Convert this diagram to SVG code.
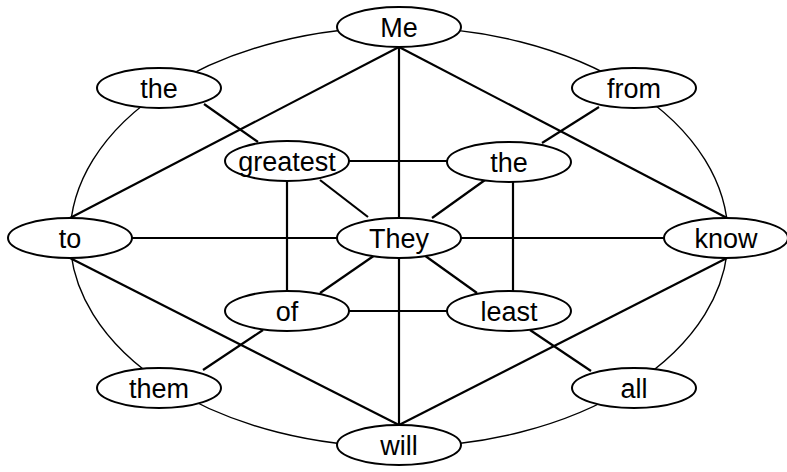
<svg xmlns="http://www.w3.org/2000/svg" width="787" height="472" viewBox="0 0 787 472">
<style>
.n ellipse{fill:#fff;stroke:#000;stroke-width:2}
.n text{font-family:"Liberation Sans",Arial,sans-serif;font-size:27px;text-anchor:middle;fill:#000}
.e line{stroke:#000;stroke-width:2.2}
.o{fill:none;stroke:#000;stroke-width:1.4}
</style>
<rect width="787" height="472" fill="#fff"/>
<g id="connectors">
<ellipse class="o" cx="399" cy="237" rx="329" ry="210"/>
<g class="e">
<line x1="399" y1="47" x2="399" y2="218"/>
<line x1="399" y1="258" x2="399" y2="425"/>
<line x1="399" y1="47" x2="70" y2="218"/>
<line x1="399" y1="47" x2="727" y2="218"/>
<line x1="70" y1="258" x2="399" y2="425"/>
<line x1="727" y1="258" x2="399" y2="425"/>
<line x1="132" y1="238" x2="337" y2="238"/>
<line x1="461" y1="238" x2="665" y2="238"/>
<line x1="349" y1="161" x2="447" y2="161"/>
<line x1="349" y1="311" x2="447" y2="311"/>
<line x1="287" y1="181" x2="287" y2="291"/>
<line x1="513" y1="182" x2="513" y2="291"/>
<line x1="204" y1="104" x2="258" y2="142"/>
<line x1="599" y1="107" x2="542" y2="143"/>
<line x1="320" y1="180" x2="368" y2="217"/>
<line x1="485" y1="180" x2="432" y2="218"/>
<line x1="320" y1="293" x2="375" y2="255"/>
<line x1="424" y1="255" x2="477" y2="293"/>
<line x1="263" y1="330" x2="203" y2="370"/>
<line x1="530" y1="330" x2="591" y2="371"/>
</g>
</g>
<g id="n-me" class="n"><ellipse cx="399" cy="27" rx="62" ry="20"/><text x="399" y="37">Me</text></g>
<g id="n-the1" class="n"><ellipse cx="159" cy="88" rx="62" ry="20"/><text x="159" y="98">the</text></g>
<g id="n-from" class="n"><ellipse cx="634" cy="88" rx="62" ry="20"/><text x="634" y="98">from</text></g>
<g id="n-greatest" class="n"><ellipse cx="287" cy="161" rx="62" ry="20"/><text x="287" y="171">greatest</text></g>
<g id="n-the2" class="n"><ellipse cx="509" cy="162" rx="62" ry="20"/><text x="509" y="172">the</text></g>
<g id="n-to" class="n"><ellipse cx="70" cy="238" rx="62" ry="20"/><text x="70" y="248">to</text></g>
<g id="n-they" class="n"><ellipse cx="399" cy="238" rx="62" ry="20"/><text x="399" y="248">They</text></g>
<g id="n-know" class="n"><ellipse cx="726" cy="238" rx="62" ry="20"/><text x="726" y="248">know</text></g>
<g id="n-of" class="n"><ellipse cx="287" cy="311" rx="62" ry="20"/><text x="287" y="321">of</text></g>
<g id="n-least" class="n"><ellipse cx="509" cy="311" rx="62" ry="20"/><text x="509" y="321">least</text></g>
<g id="n-them" class="n"><ellipse cx="159" cy="388" rx="62" ry="20"/><text x="159" y="398">them</text></g>
<g id="n-all" class="n"><ellipse cx="634" cy="388" rx="62" ry="20"/><text x="634" y="398">all</text></g>
<g id="n-will" class="n"><ellipse cx="399" cy="445" rx="62" ry="20"/><text x="399" y="455">will</text></g>
</svg>
